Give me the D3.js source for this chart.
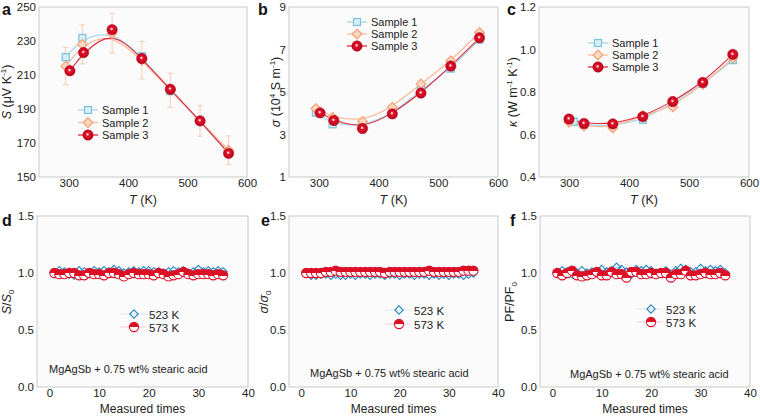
<!DOCTYPE html>
<html><head><meta charset="utf-8">
<script src="https://cdn.jsdelivr.net/npm/d3@7"></script>
<style>
html,body{margin:0;padding:0;background:#fff;}
svg{display:block;font-family:"Liberation Sans",Arial,sans-serif;}
</style></head><body>
<svg id="c" width="760" height="416"></svg>
<script>
// ---------- DATA ----------
const tempS12 = [295, 323, 373, 423, 471, 521, 569];
const tempS3  = [302, 325, 373, 423, 471, 521, 569];
const tempC   = [300, 325, 373, 423, 473, 523, 573];
const tempC1  = [308, 325, 373, 423, 473, 523, 573];

const seebeck1 = [220.5, 231.8, 236.0, 221.0, 200.5, 183.0, 164.0];
const seebeck2 = [215.2, 228.0, 234.6, 218.7, 201.0, 183.0, 165.8];
const seebeck3 = [212.5, 223.2, 236.7, 219.7, 201.6, 183.0, 163.9];
const seebeckErr2 = [11, 11.5, 11.7, 11, 10, 9, 8.3];

const sigma1 = [4.03, 3.48, 3.40, 3.95, 5.10, 6.10, 7.47];
const sigma2 = [4.22, 3.81, 3.61, 4.28, 5.38, 6.47, 7.80];
const sigma3 = [4.02, 3.66, 3.28, 3.97, 4.95, 6.22, 7.55];

const kappa1 = [0.660, 0.645, 0.640, 0.669, 0.747, 0.838, 0.950];
const kappa2 = [0.658, 0.640, 0.631, 0.690, 0.730, 0.836, 0.960];
const kappa3 = [0.673, 0.652, 0.650, 0.684, 0.755, 0.845, 0.977];

const times = d3.range(1, 36);
const sRatio523 = [1.00,1.02,1.01,0.99,0.98,1.02,1.01,1.00,1.02,1.01,1.02,1.01,1.03,1.02,1.00,1.01,1.02,1.01,1.02,1.02,1.01,1.01,1.00,1.01,1.02,1.01,1.02,1.00,1.01,1.03,1.01,1.02,1.01,1.02,1.01];
const sRatio573 = [1.00,0.99,0.99,1.00,1.00,0.98,0.98,1.00,0.99,0.99,0.98,1.00,1.00,0.99,0.97,0.99,1.00,0.99,0.99,0.99,0.98,1.00,0.99,0.97,0.98,0.99,1.01,0.99,0.98,0.99,0.99,0.99,0.98,0.99,0.98];
const cRatio523 = [1.00,0.98,0.98,0.99,0.99,0.98,0.99,0.98,0.98,0.99,0.98,0.99,0.99,0.98,0.99,0.99,0.98,0.99,0.99,0.98,0.99,0.99,0.98,0.99,0.99,0.98,0.99,0.98,0.99,0.98,0.99,0.99,0.98,0.99,1.00];
const cRatio573 = [1.00,1.00,1.00,1.00,1.01,1.01,1.02,1.01,1.01,1.01,1.01,1.01,1.01,1.01,1.01,1.01,1.00,1.01,1.01,1.01,1.01,1.01,1.01,1.01,1.01,1.02,1.01,1.01,1.01,1.01,1.01,1.01,1.02,1.02,1.02];
const pfRatio523 = [1.00,1.02,1.01,0.99,1.00,1.02,1.00,1.01,1.00,1.03,1.01,1.02,1.05,1.03,1.01,0.99,1.03,1.02,1.03,1.02,1.00,1.00,1.02,0.99,1.02,1.04,1.03,1.01,1.01,1.04,1.02,1.03,1.02,1.03,1.00];
const pfRatio573 = [1.00,0.98,1.00,1.02,0.98,0.97,0.98,0.99,1.01,0.98,0.98,1.01,0.99,0.99,0.96,1.01,1.01,0.99,0.99,1.00,0.99,1.00,1.00,0.96,0.99,0.99,1.02,0.98,0.98,0.99,1.00,0.99,0.99,1.00,0.98];

const sampleNames = ["Sample 1", "Sample 2", "Sample 3"];
const tempNames = ["523 K", "573 K"];
const annotation = "MgAgSb + 0.75 wt% stearic acid";
const topXTicks = [300, 400, 500, 600];
const botXTicks = [0, 10, 20, 30, 40];
const botYTicks = [0.0, 0.5, 1.0, 1.5];

// ---------- SETUP ----------
const svg = d3.select("#c");
const defs = svg.append("defs");
const g1 = defs.append("radialGradient").attr("id","sphere").attr("cx","50%").attr("cy","50%").attr("r","55%").attr("fx","45%").attr("fy","42%");
g1.append("stop").attr("offset","0%").attr("stop-color","#ffffff");
g1.append("stop").attr("offset","12%").attr("stop-color","#ffc0c6");
g1.append("stop").attr("offset","30%").attr("stop-color","#e2142c");
g1.append("stop").attr("offset","100%").attr("stop-color","#b00018");
const g2 = defs.append("linearGradient").attr("id","half").attr("x1","0").attr("y1","0").attr("x2","0").attr("y2","1");
g2.append("stop").attr("offset","55%").attr("stop-color","#dc0f25");
g2.append("stop").attr("offset","55%").attr("stop-color","#ffffff");

const C = {
  s1line:"#a6d6e8", s1:"#7cc0da", s1fill:"#d8eef6",
  s2line:"#f8bb9c", s2:"#f5a073", s2fill:"#fcd8c3",
  s3line:"#df2a3c",
  blue:"#2a86c0", red:"#d9102a", frame:"#c9c9c9", text:"#222"
};

function panel(o) {
  const x = d3.scaleLinear().domain(o.xd).range(o.xr);
  const y = d3.scaleLinear().domain(o.yd).range(o.yr);
  const g = svg.append("g");
  g.append("rect").attr("x", o.xr[0]).attr("y", o.yr[1]).attr("width", o.xr[1]-o.xr[0]).attr("height", o.yr[0]-o.yr[1])
    .attr("fill", "#fbfbfc").attr("stroke", C.frame).attr("stroke-width", 1);
  const yAxis = d3.axisLeft(y).tickValues(o.yticks).tickFormat(o.yfmt).tickSize(0).tickPadding(3);
  const ya = g.append("g").attr("transform", `translate(${o.xr[0]},0)`).call(yAxis);
  const xAxis = d3.axisBottom(x).tickValues(o.xticks).tickSize(0).tickPadding(2);
  const xa = g.append("g").attr("transform", `translate(0,${o.yr[0]})`).call(xAxis);
  [ya, xa].forEach(a => { a.select(".domain").remove(); a.selectAll("text").attr("font-size", 11.5).attr("fill", C.text).attr("font-family", "Liberation Sans, Arial, sans-serif"); });
  return {g, x, y};
}

function sq(g, cx, cy) {
  g.append("rect").attr("x", cx-3.5).attr("y", cy-3.5).attr("width", 7).attr("height", 7)
    .attr("fill", C.s1fill).attr("stroke", C.s1).attr("stroke-width", 1.2);
}
function dia(g, cx, cy) {
  g.append("path").attr("d", `M${cx},${cy-4.8}L${cx+4.8},${cy}L${cx},${cy+4.8}L${cx-4.8},${cy}Z`)
    .attr("fill", C.s2fill).attr("stroke", C.s2).attr("stroke-width", 1.2);
}
function sph(g, cx, cy) {
  g.append("circle").attr("cx", cx).attr("cy", cy).attr("r", 5.2).attr("fill", "url(#sphere)").attr("stroke", "#b8001a").attr("stroke-width", 0.5);
}
function openDia(g, cx, cy) {
  g.append("path").attr("d", `M${cx},${cy-4.2}L${cx+4.2},${cy}L${cx},${cy+4.2}L${cx-4.2},${cy}Z`)
    .attr("fill", "none").attr("stroke", C.blue).attr("stroke-width", 1.1);
}
function halfC(g, cx, cy) {
  g.append("circle").attr("cx", cx).attr("cy", cy).attr("r", 4.6).attr("fill", "url(#half)").attr("stroke", C.red).attr("stroke-width", 1.1);
}

function topPanel(o) {
  const P = panel(o);
  const {g, x, y} = P;
  const line = (xs) => d3.line().x((d,i) => x(xs[i])).y(d => y(d)).curve(d3.curveBasis);
  g.append("path").attr("d", line(o.t1)(o.v1)).attr("fill","none").attr("stroke", C.s1line).attr("stroke-width", 1.3);
  g.append("path").attr("d", line(o.t2)(o.v2)).attr("fill","none").attr("stroke", C.s2line).attr("stroke-width", 1.3);
  g.append("path").attr("d", line(o.t3)(o.v3)).attr("fill","none").attr("stroke", C.s3line).attr("stroke-width", 1.1);
  if (o.err) {
    o.v2.forEach((v,i) => {
      const cx = x(o.t2[i]);
      g.append("path").attr("d", `M${cx},${y(v-o.err[i])}V${y(v+o.err[i])}M${cx-3},${y(v-o.err[i])}H${cx+3}M${cx-3},${y(v+o.err[i])}H${cx+3}`)
        .attr("stroke", "#f8cdb4").attr("stroke-width", 1).attr("fill","none");
    });
  }
  o.v1.forEach((v,i) => sq(g, x(o.t1[i]), y(v)));
  o.v2.forEach((v,i) => dia(g, x(o.t2[i]), y(v)));
  o.v3.forEach((v,i) => sph(g, x(o.t3[i]), y(v)));
  // legend
  const L = o.leg;
  const cols = [C.s1line, C.s2line, C.s3line];
  const mk = [sq, dia, sph];
  sampleNames.forEach((n, i) => {
    const yy = L.y + i*L.dy;
    g.append("line").attr("x1", L.x).attr("x2", L.x+20).attr("y1", yy).attr("y2", yy).attr("stroke", cols[i]).attr("stroke-width", 1.3);
    mk[i](g, L.x+10, yy);
    g.append("text").attr("x", L.x+24).attr("y", yy+4).attr("font-size", 11).attr("fill", C.text).text(n);
  });
  // x title
  const xt = g.append("text").attr("x", (o.xr[0]+o.xr[1])/2).attr("y", 204).attr("text-anchor","middle").attr("font-size", 12.5).attr("fill", C.text);
  xt.append("tspan").attr("font-style","italic").text("T");
  xt.append("tspan").text(" (K)");
  return P;
}

function botPanel(o) {
  const P = panel(o);
  const {g, x, y} = P;
  const line = d3.line().x((d,i) => x(times[i])).y(d => y(d));
  g.append("path").attr("d", line(o.b)).attr("fill","none").attr("stroke", "#7cb8dc").attr("stroke-width", 0.8);
  g.append("path").attr("d", line(o.r)).attr("fill","none").attr("stroke", "#e86070").attr("stroke-width", 0.8);
  o.b.forEach((v,i) => openDia(g, x(times[i]), y(v)));
  o.r.forEach((v,i) => halfC(g, x(times[i]), y(v)));
  const L = o.leg;
  [[openDia, "#cfe3f0"], [halfC, "#f3c3c9"]].forEach((m, i) => {
    const yy = L.y + i*L.dy;
    g.append("line").attr("x1", L.x-14).attr("x2", L.x+12).attr("y1", yy).attr("y2", yy).attr("stroke", m[1]).attr("stroke-width", 0.8);
    m[0](g, L.x, yy);
    g.append("text").attr("x", L.x+15).attr("y", yy+4.5).attr("font-size", 11.5).attr("fill", C.text).text(tempNames[i]);
  });
  g.append("text").attr("x", o.ann[0]).attr("y", o.ann[1]).attr("font-size", 11).attr("fill", C.text).text(annotation);
  g.append("text").attr("x", (o.xr[0]+o.xr[1])/2).attr("y", 413).attr("text-anchor","middle").attr("font-size", 12).attr("fill", C.text).text("Measured times");
  return P;
}

function yTitle(cx, cy, parts) {
  const t = svg.append("text").attr("transform", `translate(${cx},${cy}) rotate(-90)`).attr("text-anchor","middle").attr("font-size", 12.5).attr("fill", C.text);
  parts.forEach(p => {
    const s = t.append("tspan").text(p.t);
    if (p.i) s.attr("font-style","italic");
    if (p.sup) { s.attr("font-size", 8).attr("dy", -5); }
    if (p.sub) { s.attr("font-size", 8).attr("dy", 3); }
    if (p.back) s.attr("dy", p.back);
  });
}
function letter(x, y, t) {
  svg.append("text").attr("x", x).attr("y", y).attr("font-size", 16).attr("font-weight", "bold").attr("fill", "#111").text(t);
}

const fmt0 = d3.format("d"), fmt1 = d3.format(".1f");
const yTop = [177, 7], yBot = [387, 216];

topPanel({xd:[250,600], xr:[39,247], yd:[150,250], yr:yTop, xticks:topXTicks, yticks:d3.range(150,251,20), yfmt:fmt0,
  t1:tempS12, t2:tempS12, t3:tempS3, v1:seebeck1, v2:seebeck2, v3:seebeck3, err:seebeckErr2, leg:{x:78, y:110, dy:12.5}});
topPanel({xd:[250,600], xr:[289,498], yd:[1,9], yr:yTop, xticks:topXTicks, yticks:[1,3,5,7,9], yfmt:fmt0,
  t1:tempS12, t2:tempS12, t3:tempS3, v1:sigma1, v2:sigma2, v3:sigma3, leg:{x:347, y:22, dy:12}});
topPanel({xd:[250,600], xr:[539,749], yd:[0.4,1.2], yr:yTop, xticks:topXTicks, yticks:[0.4,0.6,0.8,1.0,1.2], yfmt:fmt1,
  t1:tempC1, t2:tempC, t3:tempC, v1:kappa1, v2:kappa2, v3:kappa3, leg:{x:588, y:43, dy:12}});

botPanel({xd:[-2.5,40], xr:[37,248], yd:[0,1.5], yr:yBot, xticks:botXTicks, yticks:botYTicks, yfmt:fmt1,
  b:sRatio523, r:sRatio573, leg:{x:134, y:314, dy:13}, ann:[49, 373]});
botPanel({xd:[-2.5,40], xr:[289,498], yd:[0,1.5], yr:yBot, xticks:botXTicks, yticks:botYTicks, yfmt:fmt1,
  b:cRatio523, r:cRatio573, leg:{x:399, y:310, dy:14}, ann:[310, 377]});
botPanel({xd:[-2.5,40], xr:[540,750], yd:[0,1.5], yr:yBot, xticks:botXTicks, yticks:botYTicks, yfmt:fmt1,
  b:pfRatio523, r:pfRatio573, leg:{x:651, y:309, dy:13}, ann:[570, 378]});

yTitle(11, 92, [{t:"S", i:true}, {t:" (μV K"}, {t:"-1", sup:true}, {t:")", back:5}]);
yTitle(280, 92, [{t:"σ", i:true}, {t:" (10"}, {t:"4", sup:true}, {t:" S m", back:5}, {t:"-1", sup:true}, {t:")", back:5}]);
yTitle(517, 92, [{t:"κ", i:true}, {t:" (W m"}, {t:"-1", sup:true}, {t:" K", back:5}, {t:"-1", sup:true}, {t:")", back:5}]);
yTitle(11, 302, [{t:"S", i:true}, {t:"/"}, {t:"S", i:true}, {t:"0", sub:true}]);
yTitle(268, 302, [{t:"σ", i:true}, {t:"/"}, {t:"σ", i:true}, {t:"0", sub:true}]);
yTitle(514, 302, [{t:"PF/PF"}, {t:"0", sub:true}]);

letter(2, 15, "a"); letter(258, 15, "b"); letter(507, 15, "c");
letter(2, 226, "d"); letter(261, 226, "e"); letter(510, 226, "f");
</script></body></html>
